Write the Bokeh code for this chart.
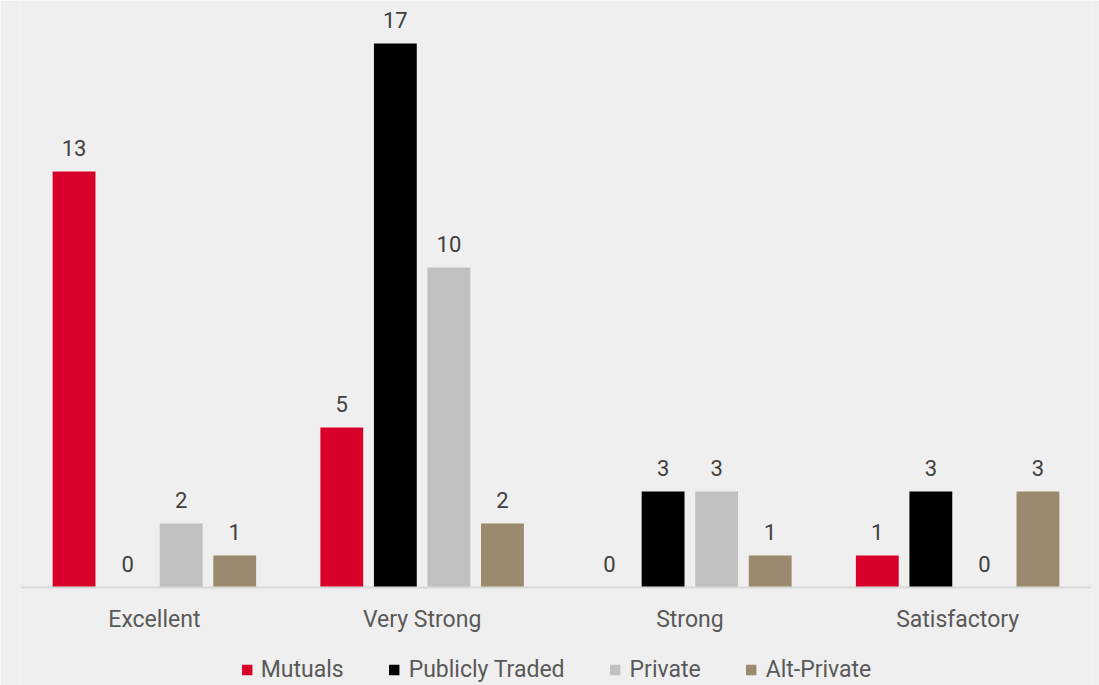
from bokeh.plotting import figure
from bokeh.models import ColumnDataSource, FactorRange, Range1d, LabelSet, Legend, LegendItem
from bokeh.transform import dodge
from bokeh.core.properties import value
from bokeh.embed import file_html
from bokeh.resources import INLINE

categories = ["Excellent", "Very Strong", "Strong", "Satisfactory"]
series = ["Mutuals", "Publicly Traded", "Private", "Alt-Private"]
mutuals = [13, 5, 0, 1]
publicly_traded = [0, 17, 3, 3]
private = [2, 10, 3, 0]
alt_private = [1, 2, 1, 3]

colors = ["#d8002a", "#000000", "#c0c0c0", "#9c8a6e"]
offsets = [-0.3, -0.1, 0.1, 0.3]
BG = "#efefef"
FONT = "Roboto"

src = ColumnDataSource(dict(cat=categories, m=mutuals, p=publicly_traded, v=private, a=alt_private))
cols = ["m", "p", "v", "a"]

p = figure(width=1099, height=685, x_range=FactorRange(*categories), y_range=Range1d(-98 / 32, 587 / 32),
           output_backend="svg", toolbar_location=None,
           background_fill_color=BG, border_fill_color=BG, outline_line_color=None,
           min_border_left=20, min_border_right=8, min_border_top=0, min_border_bottom=0)

items = []
for col, name, c, off in zip(cols, series, colors, offsets):
    r = p.vbar(x=dodge("cat", off, range=p.x_range), top=col, width=0.16, source=src,
               fill_color=c, line_color=None)
    items.append(LegendItem(label=name, renderers=[r]))
    lbl = LabelSet(x=dodge("cat", off, range=p.x_range), y=col, text=col, source=src,
                   text_align="center", text_baseline="bottom", y_offset=16,
                   text_font=value(FONT), text_font_size="22px", text_color="#404040")
    p.add_layout(lbl)

p.yaxis.visible = False
p.xgrid.grid_line_color = None
p.ygrid.grid_line_color = None
p.xaxis.fixed_location = 0
p.xaxis.axis_line_color = "#d9d9d9"
p.xaxis.axis_line_width = 2
p.xaxis.major_tick_line_color = None
p.xaxis.minor_tick_line_color = None
p.xaxis.major_label_text_font = FONT
p.xaxis.major_label_text_font_size = "23px"
p.xaxis.major_label_text_color = "#595959"
p.xaxis.major_label_standoff = 12

legend = Legend(items=items, orientation="horizontal", location="bottom_center",
                background_fill_color=BG, background_fill_alpha=0, border_line_color=None,
                glyph_width=13, glyph_height=13, label_standoff=8, spacing=44,
                label_text_font=FONT, label_text_font_size="23px", label_text_color="#595959",
                padding=0, margin=2)
p.add_layout(legend)

open("out.html", "w").write(file_html(p, INLINE))
